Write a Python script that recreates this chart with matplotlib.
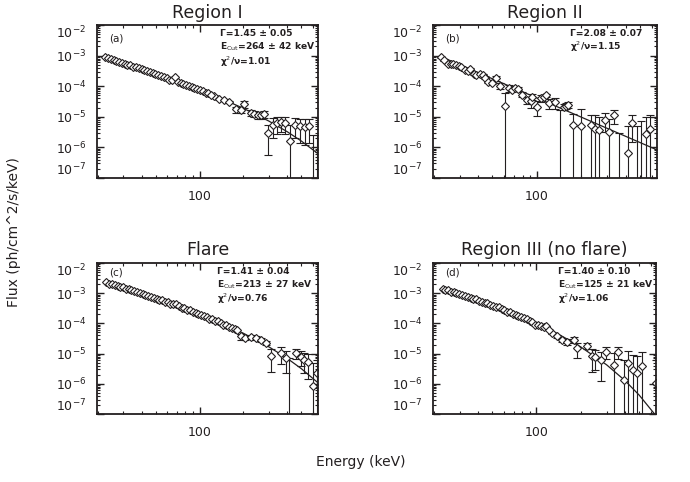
import matplotlib.pyplot as plt
from matplotlib.ticker import (LogLocator, NullFormatter, FixedLocator, FixedFormatter,
                               LogFormatterSciNotation)

INK = '#231f20'

# energies in keV, fluxes in ph/cm^2/s/keV

# (a) Region I
e_a_fine = [22.5, 23.5, 24.6, 25.7, 26.9, 28.1, 29.3, 30.7, 32.0, 33.5, 35.0, 36.6, 38.2,
            40.0, 41.8, 43.6, 45.6, 47.7, 49.8, 52.1, 54.4, 56.9, 59.4, 62.1, 64.9, 67.8,
            70.9, 74.1, 77.4, 80.9, 84.5, 88.3, 92.3, 96.5, 100.8, 105.4, 110.1, 115.1, 120.3]
f_a_fine = [8.91e-4, 8.13e-4, 7.59e-4, 7.41e-4, 6.61e-4, 6.31e-4, 5.75e-4, 5.50e-4, 5.01e-4,
            4.79e-4, 4.37e-4, 4.17e-4, 3.80e-4, 3.63e-4, 3.31e-4, 3.16e-4, 2.82e-4, 2.75e-4,
            2.45e-4, 2.40e-4, 2.14e-4, 2.04e-4, 1.82e-4, 1.62e-4, 1.58e-4, 1.95e-4, 1.41e-4,
            1.32e-4, 1.17e-4, 1.12e-4, 1.00e-4, 9.55e-5, 8.51e-5, 8.13e-5, 7.24e-5, 7.08e-5,
            6.17e-5, 6.03e-5, 5.25e-5]
e_a = [126, 137, 148, 160, 178, 193, 203, 226, 238, 251, 265, 279, 294, 319, 340, 360, 383,
       415, 450, 487, 527, 562, 601, 640]
f_a = [4.79e-5, 3.72e-5, 3.47e-5, 3.09e-5, 1.74e-5, 1.62e-5, 2.57e-5, 1.35e-5, 1.26e-5,
       1.12e-5, 1.12e-5, 1.20e-5, 2.95e-6, 5.6e-6, 6.2e-6, 6.6e-6, 6.2e-6, 1.58e-6, 5.6e-6,
       4.9e-6, 4.7e-6, 4.9e-6, 1e-9, 1e-9]
df_a = [3e-6, 3e-6, 3e-6, 3e-6, 4e-6, 3e-6, 6e-6, 3e-6, 3e-6, 3e-6, 3e-6, 3e-6, 2.4e-6,
        3.5e-6, 3.5e-6, 3.5e-6, 3.5e-6, 4e-6, 3.5e-6, 3.5e-6, 3.5e-6, 3.5e-6, 2.5e-6, 2.5e-6]

# (b) Region II
e_b = [22.4, 23.6, 24.9, 26.2, 27.2, 28.4, 29.6, 30.7, 32.4, 34.1, 35.4, 37.4, 39.0, 41.1,
       42.9, 44.5, 46.9, 49.4, 53.0, 56.5, 61.1, 64.4, 68.0, 71.6, 74.3, 79.6, 86.2, 90.9,
       93.3, 100, 106.6, 112.3, 115.4, 121.6, 133, 142.6, 152.7, 158.5, 162.8, 176, 199, 233,
       248.6, 262, 288, 310, 332.5, 360, 411, 438, 474, 508, 544, 586]
f_b = [8.8e-4, 7.2e-4, 5.5e-4, 5.3e-4, 5.5e-4, 4.9e-4, 4.6e-4, 4.3e-4, 3.3e-4, 3.2e-4,
       3.6e-4, 2.45e-4, 2.3e-4, 2.45e-4, 2.3e-4, 1.9e-4, 1.4e-4, 1.3e-4, 1.8e-4, 1.05e-4,
       2.3e-5, 8.8e-5, 7.7e-5, 8.8e-5, 8.4e-5, 5.3e-5, 3.6e-5, 3.2e-5, 4.6e-5, 2.15e-5,
       4.1e-5, 4.6e-5, 5.0e-5, 2.8e-5, 3.0e-5, 1e-9, 2.15e-5, 2.3e-5, 2.45e-5, 5.3e-6,
       5.0e-6, 5.3e-6, 4.1e-6, 3.6e-6, 8.1e-6, 3.3e-6, 1.14e-5, 1e-9, 6.8e-7, 6.5e-6,
       1e-9, 1e-9, 2.8e-6, 3.9e-6]
df_b = [5e-5, 4e-5, 3.5e-5, 3.5e-5, 3.5e-5, 3e-5, 3e-5, 3e-5, 2.5e-5, 2.5e-5, 2.5e-5, 2e-5,
        2e-5, 2e-5, 2e-5, 2e-5, 1.5e-5, 1.5e-5, 3.5e-5, 2.5e-5, 3.7e-5, 2.5e-5, 1e-5, 1e-5,
        1e-5, 1e-5, 1e-5, 1.2e-5, 1e-5, 1.1e-5, 1e-5, 5e-6, 5e-6, 1e-5, 1.2e-5, 1.64e-5,
        5e-6, 5e-6, 5e-6, 7e-6, 1.3e-5, 6.5e-6, 7e-6, 6e-6, 5e-6, 5e-6, 5.5e-6, 2.9e-6,
        4.3e-6, 5e-6, 5e-6, 7.5e-6, 7e-6, 7.5e-6]

# (c) Flare
e_fine = [23.0, 24.0, 25.1, 26.2, 27.4, 28.6, 29.9, 31.3, 32.7, 34.1, 35.7, 37.3, 38.9, 40.7,
          42.5, 44.4, 46.4, 48.5, 50.7, 53.0, 55.4, 57.9, 60.5, 63.2, 66.0, 69.0, 72.1, 75.3,
          78.7, 82.3, 86.0, 89.8, 93.9, 98.1, 102.5, 107.1, 111.9, 117.0, 122.2, 127.7, 133.5,
          139.5, 145.8, 152.3, 159.2, 166.3, 173.8, 181.6]
f_c_fine = [2.29e-3, 2.09e-3, 2.00e-3, 1.86e-3, 1.78e-3, 1.62e-3, 1.55e-3, 1.41e-3, 1.35e-3,
            1.23e-3, 1.17e-3, 1.07e-3, 1.02e-3, 9.3e-4, 8.9e-4, 8.1e-4, 7.6e-4, 7.1e-4,
            6.6e-4, 6.0e-4, 5.75e-4, 5.25e-4, 5.0e-4, 4.47e-4, 4.37e-4, 4.37e-4, 3.72e-4,
            3.31e-4, 3.16e-4, 2.82e-4, 2.69e-4, 2.40e-4, 2.29e-4, 2.04e-4, 1.95e-4, 1.70e-4,
            1.66e-4, 1.45e-4, 1.38e-4, 1.20e-4, 1.17e-4, 1.02e-4, 8.7e-5, 8.9e-5, 7.8e-5,
            7.1e-5, 6.3e-5, 6.0e-5]
e_c = [194, 205, 225, 243, 263, 285, 309, 362, 391, 410, 459, 497, 521, 556, 603, 641]
f_c = [3.7e-5, 3.3e-5, 3.6e-5, 3.3e-5, 2.9e-5, 2.3e-5, 8.5e-6, 1.07e-5, 7.2e-6, 1e-9,
       1.07e-5, 7.8e-6, 6.2e-6, 5.4e-6, 8.5e-7, 2.3e-6]
df_c = [8e-6, 4e-6, 4e-6, 4e-6, 4e-6, 4e-6, 6e-6, 6e-6, 5e-6, 7e-6, 4e-6, 4e-6, 4e-6, 4e-6,
        4e-6, 4e-6]

# (d) Region III (no flare)
f_d_fine = [1.41e-3, 1.29e-3, 1.26e-3, 1.12e-3, 1.10e-3, 9.8e-4, 9.5e-4, 8.5e-4, 8.1e-4,
            7.4e-4, 7.1e-4, 6.3e-4, 6.2e-4, 5.4e-4, 5.2e-4, 4.7e-4, 4.6e-4, 4.0e-4, 3.9e-4,
            3.4e-4, 3.4e-4, 2.9e-4, 2.8e-4, 2.4e-4, 2.3e-4, 2.1e-4, 1.86e-4, 1.78e-4, 1.58e-4,
            1.55e-4, 1.38e-4, 1.20e-4, 1.15e-4, 8.7e-5, 8.9e-5, 7.9e-5, 7.6e-5, 8.3e-5, 6.0e-5]
e_d = [127, 137, 149, 161, 179, 190, 221, 237, 252, 273, 296, 337, 360, 391, 421, 452, 483,
       521, 647]
f_d = [4.8e-5, 3.7e-5, 2.9e-5, 2.5e-5, 2.9e-5, 1.5e-5, 1.8e-5, 8.5e-6, 7.9e-6, 6.2e-6,
       1.17e-5, 4.3e-6, 1.17e-5, 1.35e-6, 4.8e-6, 2.9e-6, 2.3e-6, 3.9e-6, 1.05e-6]
df_d = [4e-6, 5e-6, 5e-6, 5e-6, 6e-6, 8e-6, 4e-6, 6e-6, 5e-6, 5e-6, 5e-6, 6e-6, 5e-6, 5e-6,
        7e-6, 6e-6, 6e-6, 7e-6, 5e-6]

# fitted model curves
line_e = [23, 40, 70, 100, 150, 200, 300, 400, 500, 650]
line_f_a = [8.81e-4, 3.58e-4, 1.42e-4, 7.57e-5, 3.48e-5, 1.89e-5, 7.19e-6, 3.25e-6, 1.61e-6, 6.24e-7]
line_e_b = [22.4, 100, 650]
line_f_b = [9.27e-4, 4.13e-5, 8.3e-7]
line_f_c = [2.28e-3, 9.66e-4, 3.81e-4, 2.0e-4, 8.93e-5, 4.71e-5, 1.66e-5, 6.93e-6, 3.16e-6, 1.08e-6]
line_f_d = [1.42e-3, 5.71e-4, 2.05e-4, 9.79e-5, 3.72e-5, 1.67e-5, 4.25e-6, 1.28e-6, 4.2e-7, 8.75e-8]

titles = ['Region I', 'Region II', 'Flare', 'Region III (no flare)']
tags = ['(a)', '(b)', '(c)', '(d)']
notes = [
    ['Γ=1.45 ± 0.05', 'E$_{\\rm Cut}$=264 ± 42 keV', 'χ$^2$/ν=1.01'],
    ['Γ=2.08 ± 0.07', 'χ$^2$/ν=1.15'],
    ['Γ=1.41 ± 0.04', 'E$_{\\rm Cut}$=213 ± 27 keV', 'χ$^2$/ν=0.76'],
    ['Γ=1.40 ± 0.10', 'E$_{\\rm Cut}$=125 ± 21 keV', 'χ$^2$/ν=1.06'],
]
y_major = [1e-7, 1e-6, 1e-5, 1e-4, 1e-3, 1e-2]

W, H = 690, 482
# axes boxes in pixels: left, top, right, bottom
boxes = [(97, 25, 318, 178), (433, 25, 657, 178), (97, 263, 318, 414), (433, 263, 656, 414)]
note_x = [0.555, 0.612, 0.542, 0.562]


def draw_panel(ax, fine_e, fine_f, e, f, df, le, lf, k):
    ax.plot(le, lf, color=INK, lw=0.9, zorder=1)
    if len(fine_e):
        ax.plot(fine_e, fine_f, ls='none', marker='D', ms=3.8, mfc='white', mec=INK,
                mew=0.8, zorder=3)
    ax.errorbar(e, f, yerr=df, fmt='D', ms=3.8, mfc='white', mec=INK, mew=0.8,
                ecolor=INK, elinewidth=0.8, capsize=2.8, capthick=0.8, zorder=2)
    ax.set_xscale('log')
    ax.set_yscale('log')
    ax.set_xlim(19.8, 650)
    ax.set_ylim(1e-7, 1e-2)

    ax.xaxis.set_major_locator(FixedLocator([100]))
    ax.xaxis.set_major_formatter(FixedFormatter(['100']))
    ax.xaxis.set_minor_locator(LogLocator(base=10, subs=range(2, 10), numticks=20))
    ax.xaxis.set_minor_formatter(NullFormatter())
    ax.yaxis.set_major_locator(FixedLocator(y_major))
    ax.yaxis.set_major_formatter(LogFormatterSciNotation())
    ax.yaxis.set_minor_locator(LogLocator(base=10, subs=range(2, 10), numticks=20))
    ax.yaxis.set_minor_formatter(NullFormatter())

    ax.tick_params(which='both', direction='in', top=True, right=True, colors=INK)
    ax.tick_params(which='major', length=5, width=1.0, labelsize=9)
    ax.tick_params(which='minor', length=2.5, width=0.8)
    ax.tick_params(axis='x', which='major', pad=9)
    ax.tick_params(axis='y', which='major', pad=8)
    for s in ax.spines.values():
        s.set_linewidth(1.3)
        s.set_color(INK)
    # end labels are nudged inside the axis range, as in the original
    yt = ax.yaxis.get_major_ticks()
    yt[0].label1.set_va('bottom')
    yt[-1].label1.set_va('top')

    pad = 5 if k < 2 else 6
    ax.set_title(titles[k], fontsize=12.5, color=INK, pad=pad)
    ty = 0.91 if k < 2 else 0.935
    ax.text(0.055, ty, tags[k], transform=ax.transAxes, fontsize=7.5, color=INK,
            ha='left', va='center')
    rows = [0.945, 0.855, 0.76]
    for j, txt in enumerate(notes[k]):
        ax.text(note_x[k], rows[j], txt, transform=ax.transAxes, fontsize=6.6,
                fontweight='bold', color=INK, ha='left', va='center')


def main():
    fig = plt.figure(figsize=(W / 100, H / 100), dpi=100)
    panels = [
        (e_a_fine, f_a_fine, e_a, f_a, df_a, line_e, line_f_a),
        ([], [], e_b, f_b, df_b, line_e_b, line_f_b),
        (e_fine, f_c_fine, e_c, f_c, df_c, line_e, line_f_c),
        (e_fine[:len(f_d_fine)], f_d_fine, e_d, f_d, df_d, line_e, line_f_d),
    ]
    for k, (box, p) in enumerate(zip(boxes, panels)):
        l, t, r, b = box
        ax = fig.add_axes([l / W, 1 - b / H, (r - l) / W, (b - t) / H])
        draw_panel(ax, *p, k)

    fig.text(361 / W, 1 - 462 / H, 'Energy (keV)', ha='center', va='center', fontsize=10,
             color=INK)
    fig.text(14 / W, 1 - 232 / H, 'Flux (ph/cm^2/s/keV)', ha='center', va='center',
             rotation=90, fontsize=10, color=INK)
    fig.savefig('out.png', dpi=100)


if __name__ == '__main__':
    main()
